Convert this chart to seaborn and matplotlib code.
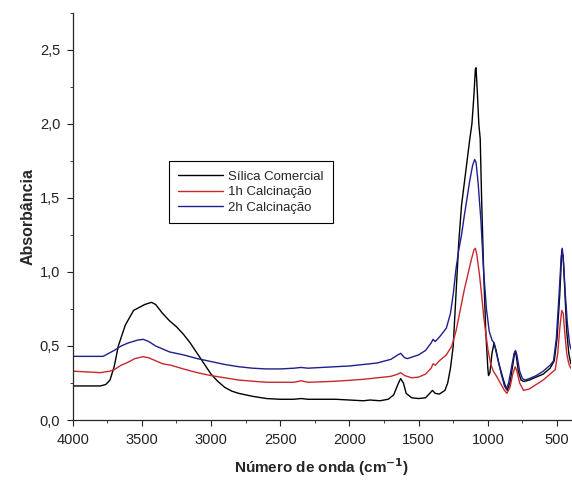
import numpy as np
import pandas as pd
import matplotlib
matplotlib.use('Agg')
import matplotlib.pyplot as plt
from matplotlib.ticker import MultipleLocator, FuncFormatter
import seaborn as sns

# Espectros FTIR (número de onda em cm-1, absorbância)
wn_silica = [4000, 3900, 3800, 3760, 3730, 3700, 3670, 3620, 3560, 3480, 3430, 3400,
             3350, 3300, 3250, 3200, 3150, 3100, 3050, 3000, 2950, 2900, 2850, 2800,
             2700, 2600, 2500, 2400, 2350, 2300, 2200, 2100, 2000, 1900, 1850, 1780,
             1720, 1680, 1650, 1630, 1610, 1590, 1550, 1500, 1450, 1420, 1400, 1380,
             1350, 1310, 1290, 1270, 1250, 1230, 1210, 1190, 1170, 1150, 1130, 1115,
             1100, 1090, 1085, 1075, 1065, 1055, 1045, 1030, 1015, 1000, 995, 985,
             970, 955, 940, 920, 890, 870, 860, 840, 820, 805, 795, 780, 760, 740,
             700, 650, 600, 550, 520, 500, 480, 465, 455, 445, 430, 415, 400]
abs_silica = [0.23, 0.23, 0.23, 0.24, 0.27, 0.36, 0.50, 0.64, 0.74, 0.78, 0.795, 0.78,
              0.72, 0.67, 0.63, 0.58, 0.52, 0.45, 0.38, 0.31, 0.26, 0.22, 0.195, 0.18,
              0.16, 0.145, 0.14, 0.14, 0.145, 0.14, 0.14, 0.14, 0.135, 0.13, 0.135, 0.13,
              0.14, 0.17, 0.24, 0.28, 0.25, 0.18, 0.15, 0.145, 0.15, 0.18, 0.20, 0.18,
              0.175, 0.20, 0.25, 0.35, 0.50, 0.85, 1.20, 1.45, 1.60, 1.75, 1.90, 2.00,
              2.20, 2.37, 2.38, 2.20, 2.00, 1.90, 1.50, 1.00, 0.60, 0.35, 0.30, 0.32,
              0.45, 0.52, 0.47, 0.38, 0.28, 0.22, 0.20, 0.25, 0.37, 0.46, 0.44, 0.33,
              0.27, 0.26, 0.27, 0.29, 0.31, 0.35, 0.40, 0.55, 0.85, 1.15, 1.10, 0.90,
              0.60, 0.45, 0.38]

wn_1h = [4000, 3900, 3800, 3730, 3700, 3650, 3600, 3550, 3490, 3450, 3400, 3350,
         3290, 3200, 3100, 3000, 2900, 2800, 2700, 2600, 2500, 2400, 2350, 2300,
         2200, 2100, 2000, 1900, 1800, 1700, 1650, 1630, 1600, 1550, 1500, 1450,
         1410, 1395, 1380, 1350, 1300, 1260, 1230, 1200, 1170, 1150, 1120, 1100,
         1090, 1080, 1060, 1040, 1030, 1000, 980, 960, 940, 910, 880, 862, 840,
         820, 802, 790, 770, 742, 700, 650, 600, 550, 513, 495, 480, 466, 455,
         445, 430, 415, 400]
abs_1h = [0.33, 0.325, 0.32, 0.33, 0.34, 0.37, 0.39, 0.415, 0.428, 0.42, 0.40, 0.38,
          0.37, 0.345, 0.32, 0.30, 0.285, 0.27, 0.262, 0.255, 0.255, 0.255, 0.265, 0.255,
          0.258, 0.262, 0.268, 0.275, 0.285, 0.295, 0.31, 0.32, 0.30, 0.285, 0.29, 0.31,
          0.35, 0.38, 0.37, 0.40, 0.44, 0.50, 0.60, 0.74, 0.88, 0.96, 1.08, 1.15,
          1.16, 1.12, 0.98, 0.80, 0.70, 0.48, 0.38, 0.33, 0.30, 0.25, 0.20, 0.18, 0.22,
          0.31, 0.36, 0.33, 0.25, 0.20, 0.21, 0.24, 0.27, 0.31, 0.34, 0.45, 0.62, 0.74, 0.72,
          0.60, 0.45, 0.38, 0.35]

wn_2h = [4000, 3900, 3780, 3760, 3700, 3650, 3600, 3530, 3490, 3450, 3400, 3350,
         3300, 3200, 3100, 3000, 2900, 2800, 2700, 2600, 2500, 2400, 2350, 2300,
         2200, 2100, 2000, 1900, 1800, 1700, 1650, 1630, 1600, 1580, 1500, 1450,
         1410, 1395, 1380, 1350, 1300, 1270, 1250, 1230, 1210, 1190, 1170, 1150,
         1130, 1110, 1095, 1085, 1070, 1050, 1030, 1010, 990, 970, 955, 940, 920,
         900, 880, 867, 850, 830, 810, 800, 790, 770, 750, 730, 700, 650, 600,
         550, 525, 505, 485, 470, 462, 452, 440, 425, 410, 400]
abs_2h = [0.43, 0.43, 0.43, 0.44, 0.47, 0.50, 0.52, 0.54, 0.545, 0.53, 0.50, 0.48,
          0.46, 0.44, 0.415, 0.395, 0.375, 0.36, 0.35, 0.345, 0.345, 0.35, 0.355, 0.35,
          0.355, 0.36, 0.365, 0.375, 0.385, 0.41, 0.44, 0.45, 0.42, 0.415, 0.44, 0.47,
          0.52, 0.545, 0.53, 0.56, 0.62, 0.72, 0.85, 1.02, 1.15, 1.25, 1.38, 1.50,
          1.62, 1.72, 1.76, 1.74, 1.60, 1.35, 1.00, 0.75, 0.60, 0.54, 0.52, 0.46, 0.38,
          0.30, 0.23, 0.21, 0.25, 0.35, 0.45, 0.47, 0.44, 0.33, 0.28, 0.27, 0.28, 0.30, 0.33,
          0.37, 0.40, 0.55, 0.85, 1.10, 1.16, 1.05, 0.85, 0.65, 0.52, 0.48]

labels = ['Sílica Comercial', '1h Calcinação', '2h Calcinação']
cores = ['#000000', '#c8282d', '#1e1e8c']

df = pd.concat([
    pd.DataFrame({'wn': wn_silica, 'abs': abs_silica, 'amostra': labels[0]}),
    pd.DataFrame({'wn': wn_1h, 'abs': abs_1h, 'amostra': labels[1]}),
    pd.DataFrame({'wn': wn_2h, 'abs': abs_2h, 'amostra': labels[2]}),
], ignore_index=True)

sns.set_style('ticks')
plt.rcParams['font.family'] = ['Liberation Sans', 'DejaVu Sans']

fig = plt.figure(figsize=(5.72, 4.8), dpi=100)
ax = fig.add_axes([0.127, 0.125, 0.871, 0.848])

sns.lineplot(data=df, x='wn', y='abs', hue='amostra', palette=cores,
             sort=False, estimator=None, linewidth=1.0, ax=ax)

ax.set_xlim(4000, 400)
ax.set_ylim(0, 2.75)
ax.xaxis.set_major_locator(MultipleLocator(500))
ax.xaxis.set_minor_locator(MultipleLocator(250))
ax.yaxis.set_major_locator(MultipleLocator(0.5))
ax.yaxis.set_minor_locator(MultipleLocator(0.25))
ax.yaxis.set_major_formatter(FuncFormatter(lambda v, p: f'{v:.1f}'.replace('.', ',')))
ax.tick_params(which='major', direction='out', length=4, width=0.8, labelsize=10.5,
               colors='#222222', pad=5)
ax.tick_params(which='minor', direction='out', length=2.5, width=0.6)
sns.despine(ax=ax)
for s in ['left', 'bottom']:
    ax.spines[s].set_linewidth(0.9)

ax.set_xlabel(r'Número de onda (cm$^{\mathbf{-1}}$)', fontsize=11, fontweight='bold', labelpad=7)
ax.set_ylabel('Absorbância', fontsize=11.5, fontweight='bold', labelpad=3)

leg = ax.legend(loc='upper left', bbox_to_anchor=(0.18, 0.652), fontsize=9.5,
                frameon=True, fancybox=False, edgecolor='black', framealpha=1,
                handlelength=3.4, handletextpad=0.4, borderpad=0.7, labelspacing=0.25)
leg.get_frame().set_linewidth(0.8)
for line in leg.get_lines():
    line.set_linewidth(1.0)

fig.savefig('out.png', dpi=100)
